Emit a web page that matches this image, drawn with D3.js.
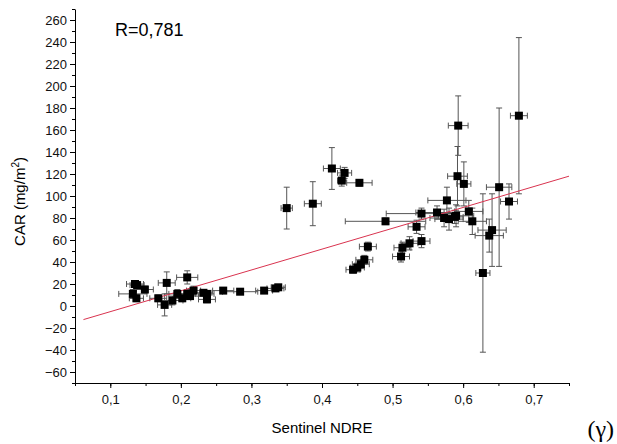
<!DOCTYPE html>
<html>
<head>
<meta charset="utf-8">
<script src="https://cdn.jsdelivr.net/npm/d3@7"></script>
<style>
  body { margin: 0; background: #fff; }
  svg { font-family: "Liberation Sans", Arial, sans-serif; }
  .axis path, .axis line { stroke: #000; }
  .axis text { font-size: 13px; fill: #111; }
</style>
</head>
<body>
<div id="chart"></div>
<script>
// Sentinel NDRE vs CAR (mg/m2), points with x and y error bars
const ndre = [0.135, 0.138, 0.132, 0.137, 0.149, 0.168, 0.177, 0.180, 0.188, 0.195,
  0.202, 0.209, 0.209, 0.213, 0.218, 0.232, 0.237, 0.237, 0.260, 0.284,
  0.318, 0.334, 0.338, 0.350, 0.387, 0.414, 0.428, 0.432, 0.453, 0.444,
  0.450, 0.455, 0.460, 0.465, 0.490, 0.512, 0.514, 0.524, 0.534, 0.541,
  0.541, 0.563, 0.573, 0.577, 0.580, 0.588, 0.590, 0.593, 0.592, 0.601,
  0.608, 0.613, 0.628, 0.637, 0.641, 0.651, 0.665, 0.679];
const car = [20, 19, 11, 7, 15, 7, 1, 21, 5, 11,
  7, 26, 11, 9, 14, 12, 6, 11, 14, 13,
  14, 16, 17, 89, 93, 125, 114, 121, 112, 33,
  35, 38, 42, 54, 77, 45, 53, 57, 72, 59,
  84, 85, 80, 96, 79, 81, 82, 164, 118, 111,
  86, 77, 30, 64, 69, 108, 95, 173];
const ndreErr = [0.012, 0.010, 0.020, 0.010, 0.012, 0.012, 0.010, 0.012, 0.015, 0.012,
  0.012, 0.015, 0.012, 0.012, 0.010, 0.012, 0.012, 0.010, 0.015, 0.025,
  0.012, 0.012, 0.010, 0.008, 0.012, 0.012, 0.006, 0.010, 0.018, 0.010,
  0.010, 0.012, 0.012, 0.012, 0.057, 0.012, 0.012, 0.012, 0.012, 0.012,
  0.050, 0.030, 0.020, 0.027, 0.020, 0.012, 0.025, 0.014, 0.014, 0.010,
  0.020, 0.020, 0.010, 0.020, 0.020, 0.018, 0.012, 0.012];
const carErr = [3, 3, 4, 3, 3, 3, 10, 10, 4, 4,
  3, 6, 4, 3, 4, 3, 3, 3, 2, 2,
  2, 2, 2, 19, 20, 19, 5, 5, 3, 3,
  4, 4, 4, 4, 3, 5, 5, 6, 6, 6,
  5, 6, 8, 12, 10, 6, 10, 27, 27, 20,
  10, 12, 72, 15, 33, 72, 16, 71];

// linear fit
const fitX = [0.062, 0.75];
const fitIntercept = -24.1;
const fitSlope = 189.5;

const xTicks = [0.1, 0.2, 0.3, 0.4, 0.5, 0.6, 0.7];
const yTicks = d3.range(-60, 261, 20);

const width = 617;
const height = 444;
const margin = { top: 9, right: 48, bottom: 61, left: 75 };

const svg = d3.select('#chart').append('svg')
  .attr('width', width)
  .attr('height', height);

const xScale = d3.scaleLinear()
  .domain([0.05, 0.75])
  .range([margin.left, width - margin.right]);

const yScale = d3.scaleLinear()
  .domain([-70, 270])
  .range([height - margin.bottom, margin.top]);

const comma = (d) => d3.format('.1f')(d).replace('.', ',');

// minor ticks
svg.append('g')
  .attr('class', 'axis')
  .attr('transform', `translate(0,${height - margin.bottom})`)
  .call(d3.axisBottom(xScale).tickValues(d3.range(0.05, 0.751, 0.05)).tickSize(3).tickFormat(''))
  .call((g) => g.select('.domain').remove());
svg.append('g')
  .attr('class', 'axis')
  .attr('transform', `translate(${margin.left},0)`)
  .call(d3.axisLeft(yScale).tickValues(d3.range(-70, 271, 10)).tickSize(3).tickFormat(''))
  .call((g) => g.select('.domain').remove());

// major axes
svg.append('g')
  .attr('class', 'axis')
  .attr('transform', `translate(0,${height - margin.bottom})`)
  .call(d3.axisBottom(xScale).tickValues(xTicks).tickSize(5).tickSizeOuter(0).tickPadding(7).tickFormat(comma));
svg.append('g')
  .attr('class', 'axis')
  .attr('transform', `translate(${margin.left},0)`)
  .call(d3.axisLeft(yScale).tickValues(yTicks).tickSize(5).tickSizeOuter(0).tickPadding(3));

const points = ndre.map((x, i) => ({ x, y: car[i], xe: ndreErr[i], ye: carErr[i] }));

// error bars
const bars = svg.append('g').attr('stroke', '#555').attr('stroke-width', 1).attr('fill', 'none');
const cap = 3;
points.forEach((d) => {
  const cx = xScale(d.x), cy = yScale(d.y);
  const x0 = xScale(d.x - d.xe), x1 = xScale(d.x + d.xe);
  const y0 = yScale(d.y - d.ye), y1 = yScale(d.y + d.ye);
  bars.append('path').attr('d',
    `M${x0},${cy}H${x1}M${x0},${cy - cap}V${cy + cap}M${x1},${cy - cap}V${cy + cap}` +
    `M${cx},${y0}V${y1}M${cx - cap},${y0}H${cx + cap}M${cx - cap},${y1}H${cx + cap}`);
});

// fit line
svg.append('line')
  .attr('x1', xScale(fitX[0])).attr('y1', yScale(fitIntercept + fitSlope * fitX[0]))
  .attr('x2', xScale(fitX[1])).attr('y2', yScale(fitIntercept + fitSlope * fitX[1]))
  .attr('stroke', '#d9334f').attr('stroke-width', 1);

// markers
svg.append('g').selectAll('rect')
  .data(points)
  .join('rect')
  .attr('x', (d) => xScale(d.x) - 4)
  .attr('y', (d) => yScale(d.y) - 4)
  .attr('width', 8)
  .attr('height', 8)
  .attr('fill', '#000');

// labels
svg.append('text')
  .attr('x', 115).attr('y', 36)
  .attr('font-size', 18)
  .text('R=0,781');

svg.append('text')
  .attr('x', xScale(0.4)).attr('y', 433)
  .attr('text-anchor', 'middle')
  .attr('font-size', 15)
  .text('Sentinel NDRE');

const yl = svg.append('text')
  .attr('transform', `translate(25,${yScale(95)}) rotate(-90)`)
  .attr('text-anchor', 'middle')
  .attr('font-size', 15)
  .text('CAR (mg/m');
yl.append('tspan').attr('dy', -6).attr('font-size', 10).text('2');
yl.append('tspan').attr('dy', 6).text(')');

svg.append('text')
  .attr('x', 614).attr('y', 437)
  .attr('text-anchor', 'end')
  .attr('font-family', '"Liberation Serif", "DejaVu Serif", serif')
  .attr('font-size', 24)
  .text('(γ)');
</script>
</body>
</html>
